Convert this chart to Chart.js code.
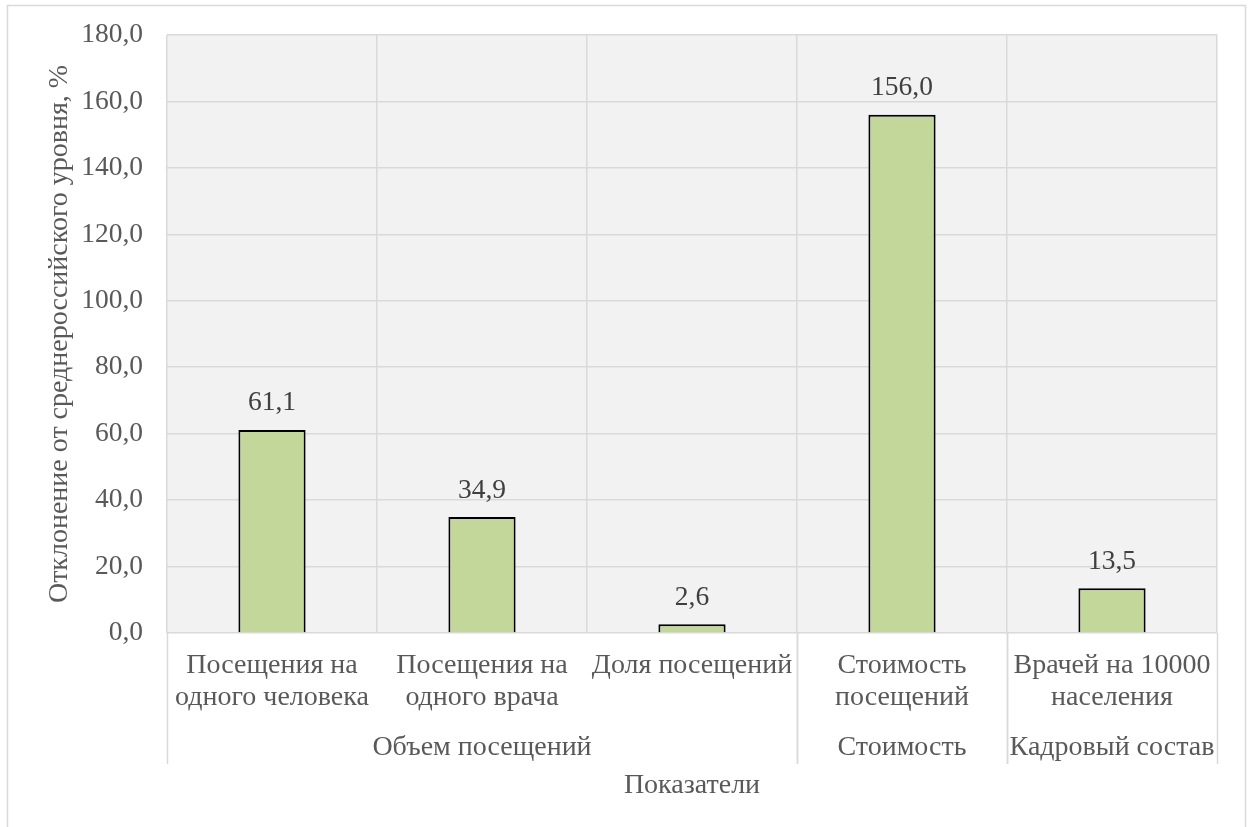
<!DOCTYPE html>
<html>
<head>
<meta charset="utf-8">
<script src="https://cdn.jsdelivr.net/npm/chart.js@4/dist/chart.umd.min.js"></script>
<style>
  body { margin: 0; background: #fff; }
  canvas { display: block; }
</style>
</head>
<body>
<canvas id="chart" width="1250" height="827"></canvas>
<script>
// indicator labels (two lines each) and their groups
var categories = [
  ['Посещения на', 'одного человека'],
  ['Посещения на', 'одного врача'],
  ['Доля посещений'],
  ['Стоимость', 'посещений'],
  ['Врачей на 10000', 'населения']
];
var groups = [
  { name: 'Объем посещений', from: 0, to: 2 },
  { name: 'Стоимость', from: 3, to: 3 },
  { name: 'Кадровый состав', from: 4, to: 4 }
];
var values = [61.1, 34.9, 2.6, 156.0, 13.5];
var yTicks = [0, 20, 40, 60, 80, 100, 120, 140, 160, 180];
var yTitle = 'Отклонение от среднероссийского уровня, %';
var xTitle = 'Показатели';

var FONT = '"Liberation Serif", "Times New Roman", serif';
var TEXT = '#595959';
var GRID = '#d9d9d9';

function fmt(v) {
  return v.toFixed(1).replace('.', ',');
}

var frame = {
  id: 'frame',
  beforeDraw: function(chart) {
    var ctx = chart.ctx;
    ctx.save();
    ctx.fillStyle = '#fff';
    ctx.fillRect(0, 0, chart.width, chart.height);
    ctx.strokeStyle = GRID;
    ctx.lineWidth = 1.5;
    ctx.strokeRect(7.5, 5.5, 1238, 840);
    var a = chart.chartArea;
    ctx.fillStyle = '#f2f2f2';
    ctx.fillRect(a.left, a.top, a.right - a.left, a.bottom - a.top);
    ctx.restore();
  }
};

var axisLabels = {
  id: 'axisLabels',
  afterDraw: function(chart) {
    var ctx = chart.ctx;
    var x = chart.scales.x;
    var a = chart.chartArea;
    var half = (x.getPixelForValue(1) - x.getPixelForValue(0)) / 2;
    ctx.save();
    ctx.fillStyle = TEXT;
    ctx.textAlign = 'center';
    ctx.textBaseline = 'middle';

    // inner level: indicator names
    ctx.font = '28px ' + FONT;
    categories.forEach(function(lines, i) {
      var cx = x.getPixelForValue(i);
      lines.forEach(function(t, k) {
        ctx.fillText(t, cx, 666 + k * 32);
      });
    });

    // outer level: groups and their separators
    ctx.strokeStyle = GRID;
    ctx.lineWidth = 1.5;
    var seps = [];
    groups.forEach(function(g) {
      var l = x.getPixelForValue(g.from) - half;
      var r = x.getPixelForValue(g.to) + half;
      ctx.fillText(g.name, (l + r) / 2, 748);
      seps.push(l, r);
    });
    seps.forEach(function(p) {
      ctx.beginPath();
      ctx.moveTo(Math.round(p) + 0.5, a.bottom);
      ctx.lineTo(Math.round(p) + 0.5, 764);
      ctx.stroke();
    });

    ctx.fillText(xTitle, (a.left + a.right) / 2, 786);

    // y axis title
    ctx.translate(60, (a.top + a.bottom) / 2);
    ctx.rotate(-Math.PI / 2);
    ctx.fillText(yTitle, 0, 0);
    ctx.restore();
  }
};

var valueLabels = {
  id: 'valueLabels',
  afterDatasetsDraw: function(chart) {
    var ctx = chart.ctx;
    ctx.save();
    ctx.fillStyle = '#404040';
    ctx.font = '27.5px ' + FONT;
    ctx.textAlign = 'center';
    ctx.textBaseline = 'bottom';
    chart.getDatasetMeta(0).data.forEach(function(bar, i) {
      ctx.fillText(fmt(values[i]), bar.x, bar.y - 13);
    });
    ctx.restore();
  }
};

new Chart(document.getElementById('chart'), {
  type: 'bar',
  data: {
    labels: categories,
    datasets: [{
      data: values,
      backgroundColor: '#c4d79b',
      borderColor: '#000',
      borderWidth: 2,
      barPercentage: 0.64,
      categoryPercentage: 0.5
    }]
  },
  options: {
    responsive: false,
    devicePixelRatio: 1,
    animation: false,
    layout: { padding: { left: 0, top: 35, right: 33, bottom: 0 } },
    plugins: {
      legend: { display: false },
      tooltip: { enabled: false }
    },
    scales: {
      x: {
        ticks: { display: false },
        grid: { color: GRID, lineWidth: 1.5, drawTicks: false, offset: true },
        border: { display: false },
        afterFit: function(s) { s.height = 194; s.paddingLeft = 0; s.paddingRight = 0; }
      },
      y: {
        min: 0,
        max: 180,
        afterBuildTicks: function(s) {
          s.ticks = yTicks.map(function(v) { return { value: v }; });
        },
        ticks: {
          padding: 24,
          color: TEXT,
          font: { family: FONT, size: 27.5 },
          callback: function(v) { return fmt(v); }
        },
        grid: { color: GRID, lineWidth: 1.5, drawTicks: false },
        border: { display: false },
        afterFit: function(s) { s.width = 167; s.paddingTop = 0; s.paddingBottom = 0; }
      }
    }
  },
  plugins: [frame, valueLabels, axisLabels]
});
</script>
</body>
</html>
